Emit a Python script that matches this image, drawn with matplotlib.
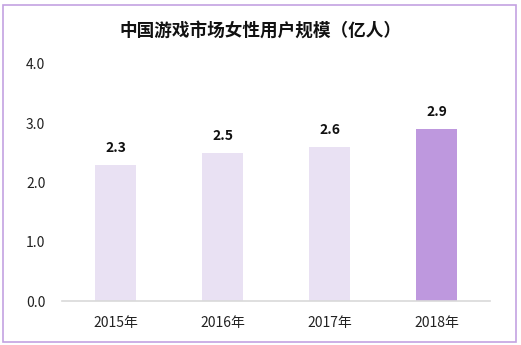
import matplotlib.pyplot as plt
from matplotlib.patches import Rectangle

plt.rcParams['font.family'] = ['Noto Sans CJK SC', 'DejaVu Sans']

years = ['2015年', '2016年', '2017年', '2018年']
users = [2.3, 2.5, 2.6, 2.9]
title = '中国游戏市场女性用户规模（亿人）'

light = '#E9E1F3'
dark = '#BE98DE'
colors = [light, light, light, dark]

fig = plt.figure(figsize=(5.21, 3.45), dpi=100)
ax = fig.add_axes([0.119, 0.1275, 0.8215, 0.687])

x = range(len(years))
bars = ax.bar(x, users, width=0.39, color=colors, zorder=2)

# value labels above each bar
for rect, v in zip(bars, users):
    ax.text(rect.get_x() + rect.get_width() / 2, v + 0.17, f'{v:.1f}',
            ha='center', va='bottom', fontsize=10, fontweight='bold', color='#111111')

ax.set_xlim(-0.5, 3.5)
ax.set_ylim(0, 4.0)
ax.set_yticks([0, 1, 2, 3, 4])
ax.set_yticklabels([f'{t:.1f}' for t in [0, 1, 2, 3, 4]])
ax.set_xticks(list(x))
ax.set_xticklabels(years)
ax.tick_params(axis='both', length=0, labelsize=10, colors='#222222')
ax.tick_params(axis='y', pad=12)
ax.tick_params(axis='x', pad=11)

for side in ['top', 'right', 'left']:
    ax.spines[side].set_visible(False)
ax.spines['bottom'].set_color('#D9D9D9')
ax.spines['bottom'].set_linewidth(1.2)

fig.text(0.5, 0.912, title, ha='center', va='center', fontsize=12.7,
         fontweight='bold', color='#111111')

# outer frame
fig.patches.append(Rectangle((3 / 521, 3 / 345), 513 / 521, 337 / 345,
                             transform=fig.transFigure, fill=False,
                             edgecolor='#C3A2E2', linewidth=1.2))

fig.savefig('out.png', dpi=100)
